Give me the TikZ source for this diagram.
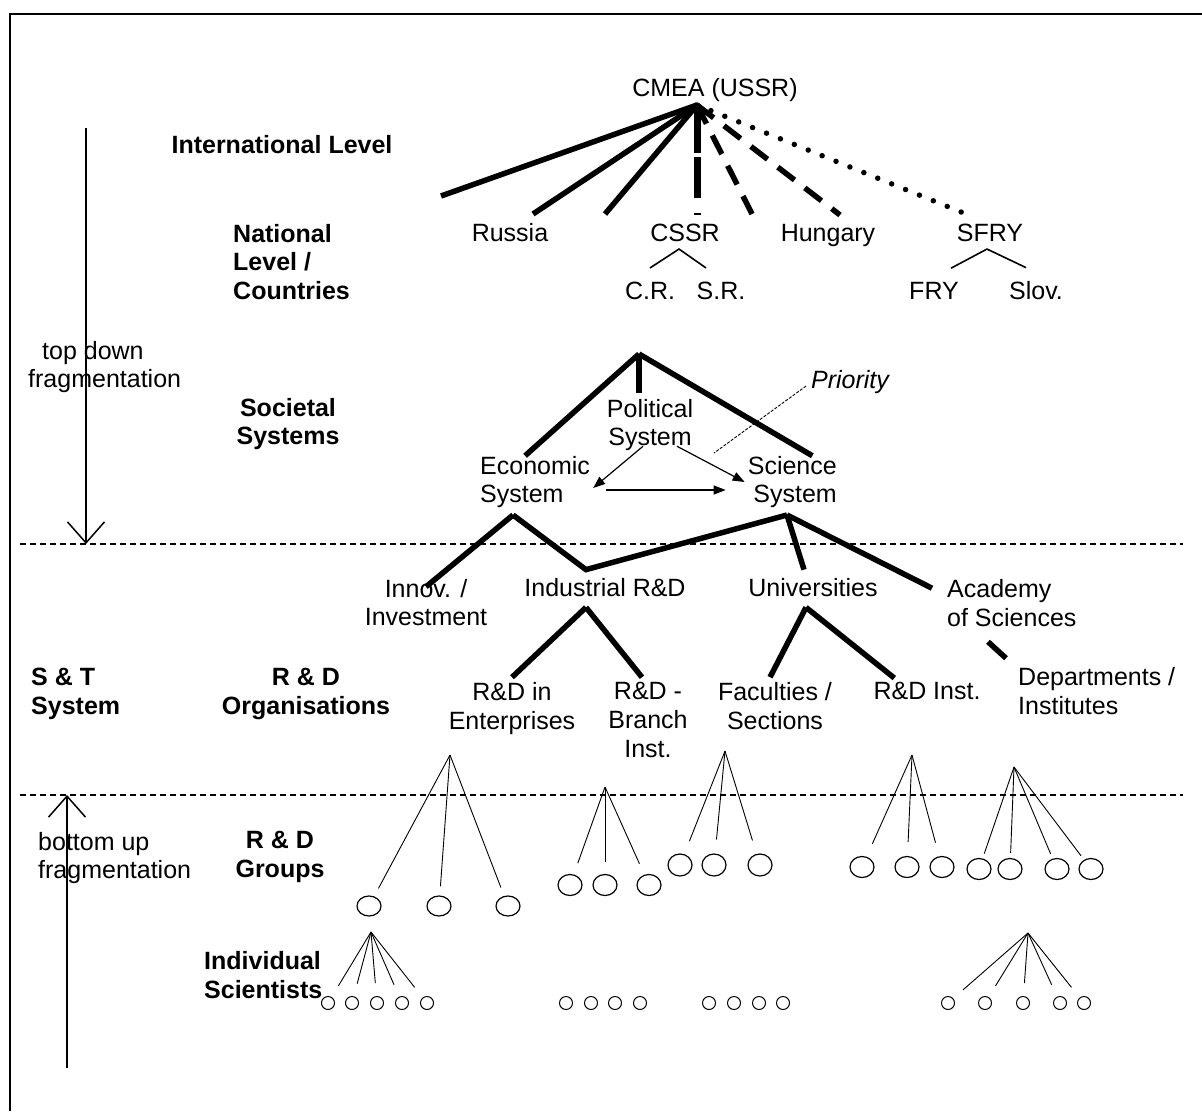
\documentclass[tikz,border=0pt]{standalone}
\usepackage{fontspec}
\setmainfont{Liberation Sans}
\usepackage{tikz}
\usetikzlibrary{shapes.geometric, arrows.meta}
\tikzstyle{lbl} = [inner sep=0pt, font=\fontsize{25}{28.8}\selectfont, align=center]
\tikzstyle{lvl} = [lbl, font=\fontsize{25}{28.8}\selectfont\bfseries]
\tikzstyle{grp} = [ellipse, draw, line width=1.2pt, minimum width=24pt, minimum height=21pt, inner sep=0pt]
\tikzstyle{sci} = [circle, draw, line width=1pt, minimum size=13pt, inner sep=0pt]
\tikzstyle{bough} = [line width=5.5pt]
\tikzstyle{split} = [line width=1.6pt]
\tikzstyle{twig} = [line width=0.9pt]
\tikzstyle{arrow} = [line width=1.2pt, -{Triangle[length=12pt,width=9pt]}]
\tikzstyle{flow} = [line width=1.5pt, -{Straight Barb[length=21pt,width=37pt]}]
\tikzstyle{border} = [line width=1.5pt, dash pattern=on 6pt off 4pt]
\tikzstyle{pointer} = [line width=0.9pt, dash pattern=on 3pt off 1.5pt]

\begin{document}
\begin{tikzpicture}[x=1pt, y=-1pt]
\useasboundingbox (0,0) rectangle (1202,1111);
% frame and level borders
\draw [line width=2.5pt] (10,1111) -- (10,14) -- (1202,14);
\draw [border] (20,544) -- (1183,544);
\draw [border] (20,795) -- (1183,795);

% level names
\node (intl) [lvl] at (282,145) {International Level};
\node (natl) [lvl, align=left, anchor=west] at (233,262) {National\\Level /\\Countries};
\node (socl) [lvl] at (288,424) {Societal\\Systems};
\node (stsys) [lvl, align=left, anchor=west] at (31,694) {S \& T\\System};
\node (rdorg) [lvl] at (306,694) {R \& D\\Organisations};
\node (rdgrp) [lvl] at (280,857) {R \& D\\Groups};
\node (indiv) [lvl, align=left, anchor=west] at (204,975) {Individual\\Scientists};

% fragmentation arrows
\node (topdown) [lbl, align=left, anchor=west] at (28,367) {\hspace*{14pt}top down\\fragmentation};
\node (bottomup) [lbl, align=left, anchor=west] at (38,858) {bottom up\\fragmentation};
\coordinate (tdstart) at (86,128);
\coordinate (tdend) at (86,544);
\coordinate (bustart) at (67,1068);
\coordinate (buend) at (67,795);
\draw [flow] (tdstart) -- (tdend);
\draw [flow] (bustart) -- (buend);

% international and national level
\node (cmea) [lbl] at (715,90.5) {CMEA (USSR)};
\node (russia) [lbl] at (510,233) {Russia};
\node (cssr) [lbl] at (685,233) {CSSR};
\node (hungary) [lbl] at (828,235.5) {Hungary};
\node (sfry) [lbl] at (990,233) {SFRY};
\node (cr) [lbl] at (650,291) {C.R.};
\node (sr) [lbl] at (721,291) {S.R.};
\node (fry) [lbl] at (934,291) {FRY};
\node (slov) [lbl] at (1036,291) {Slov.};
\coordinate (cmeafoot) at (697,105);
\coordinate (link1) at (441,196);
\coordinate (link2) at (533,214);
\coordinate (link3) at (605,214);
\coordinate (link4) at (697,215);
\coordinate (link5) at (752,214);
\coordinate (link6) at (840,215);
\coordinate (link7) at (966,214);
\draw [bough] (cmeafoot) -- (link1);
\draw [bough] (cmeafoot) -- (link2);
\draw [bough] (cmeafoot) -- (link3);
\draw [bough, line width=7pt, dash pattern=on 48pt off 4pt on 41pt off 15pt] (cmeafoot) -- (link4);
\draw [bough, dash pattern=on 21pt off 13pt] (cmeafoot) -- (link5);
\draw [bough, dash pattern=on 21pt off 13pt] (cmeafoot) -- (link6);
\draw [bough, line cap=round, dash pattern=on 0pt off 15pt] (cmeafoot) -- (link7);
\draw [split] ([yshift=14pt]cr.north) -- ([xshift=-6pt,yshift=-7pt]cssr.south) -- ([xshift=-15pt,yshift=14pt]sr.north);
\draw [split] ([xshift=17pt,yshift=14pt]fry.north) -- ([xshift=-3pt,yshift=-7pt]sfry.south) -- ([xshift=-10pt,yshift=14pt]slov.north);

% societal systems
\coordinate (socfoot) at (639,354);
\node (political) [lbl] at (650,425) {Political\\System};
\node (economic) [lbl, align=left, anchor=west] at (480,482) {Economic\\System};
\node (science) [lbl, align=right, anchor=east] at (837,482) {Science\\System};
\node (priority) [lbl, font=\fontsize{25}{28.8}\selectfont\itshape] at (850,382.5) {Priority};
\coordinate (prioend) at (714,453);
\draw [bough] (socfoot) -- ([xshift=-10pt]economic.north);
\draw [bough] (socfoot) -- ([xshift=-11pt,yshift=6pt]political.north);
\draw [bough] (socfoot) -- ([xshift=20pt]science.north);
\draw [pointer, shorten <=6pt] (priority.west) -- (prioend);
\draw [arrow] ([xshift=-7pt,yshift=5pt]political.south) -- ([xshift=3pt,yshift=-6pt]economic.east);
\draw [arrow] ([xshift=27pt,yshift=5pt]political.south) -- ([xshift=-3pt]science.west);
\draw [arrow] ([xshift=16pt,yshift=-8pt]economic.east) -- ([xshift=-22pt,yshift=-8pt]science.west);

% S & T system
\coordinate (econfoot) at (513,515);
\coordinate (scifoot) at (787,515);
\node (innov) [lbl] at (426,602.5) {Innov. /\\Investment};
\node (indrd) [lbl] at (605,588) {Industrial R\&D};
\node (univ) [lbl] at (813,588) {Universities};
\node (academy) [lbl, align=left, anchor=west] at (947,603) {Academy\\of Sciences};
\coordinate (bend) at ([xshift=-19pt,yshift=9pt]indrd.north);
\draw [bough] (econfoot) -- ([yshift=-8pt]innov.north);
\draw [bough] (econfoot) -- (bend) -- (scifoot);
\draw [bough] (scifoot) -- ([xshift=-9pt,yshift=9pt]univ.north);
\draw [bough] (scifoot) -- ([xshift=-15pt,yshift=-9pt]academy.north west);

% R & D organisations
\node (rdent) [lbl] at (512,708.5) {R\&D in\\Enterprises};
\node (rdbranch) [lbl] at (648,720) {R\&D -\\Branch\\Inst.};
\node (faculties) [lbl] at (775,706) {Faculties /\\Sections};
\node (rdinst) [lbl] at (927,691) {R\&D Inst.};
\node (depts) [lbl, align=left, anchor=west] at (1018,691) {Departments /\\Institutes};
\coordinate (indfoot) at ([xshift=-19pt,yshift=-10pt]indrd.south);
\coordinate (univfoot) at ([xshift=-7pt,yshift=-10pt]univ.south);
\draw [bough] (indfoot) -- ([yshift=5pt]rdent.north);
\draw [bough] (indfoot) -- ([xshift=-6pt,yshift=5pt]rdbranch.north);
\draw [bough] (univfoot) -- ([xshift=-5pt,yshift=5pt]faculties.north);
\draw [bough] (univfoot) -- ([xshift=21pt,yshift=4pt]rdinst.north west);
\draw [bough] ([xshift=41pt,yshift=-15pt]academy.south west) -- ([xshift=-12pt,yshift=9pt]depts.north west);

% R & D groups
\coordinate (entfoot) at (450,755);
\coordinate (brfoot) at (605,787);
\coordinate (facfoot) at (725,751);
\coordinate (instfoot) at (912,755);
\coordinate (deptfoot) at (1014,767);
\foreach \i/\x in {1/369,2/439,3/508} \node (ent\i) [grp, minimum height=20pt] at (\x,906) {};
\foreach \i/\x in {1/570,2/605,3/649} \node (br\i) [grp] at (\x,885) {};
\foreach \i/\x in {1/680,2/714,3/760} \node (fac\i) [grp, minimum height=22pt] at (\x,865) {};
\foreach \i/\x in {1/862,2/907,3/942} \node (inst\i) [grp] at (\x,867) {};
\foreach \i/\x in {1/979,2/1010,3/1057,4/1091} \node (dept\i) [grp] at (\x,869) {};
\foreach \i in {1,2,3} \draw [twig, shorten >=9pt] (entfoot) -- (ent\i);
\foreach \i in {1,2,3} \draw [twig, shorten >=12pt] (brfoot) -- (br\i);
\foreach \i in {1,2,3} \draw [twig, shorten >=14pt] (facfoot) -- (fac\i);
\foreach \i in {1,2,3} \draw [twig, shorten >=14pt] (instfoot) -- (inst\i);
\foreach \i in {1,2,3,4} \draw [twig, shorten >=5pt] (deptfoot) -- (dept\i);

% individual scientists
\coordinate (leftfoot) at (371,932);
\coordinate (rightfoot) at (1028,933);
\foreach \i/\x in {1/328,2/352,3/377,4/402,5/427} \node (sl\i) [sci] at (\x,1003) {};
\foreach \i/\x in {1/566,2/591,3/615,4/640} \node (sm\i) [sci] at (\x,1003) {};
\foreach \i/\x in {1/709,2/734,3/759,4/783} \node (sn\i) [sci] at (\x,1003) {};
\foreach \i/\x in {1/948,2/985,3/1023,4/1060,5/1084} \node (sr\i) [sci] at (\x,1003) {};
\foreach \i in {1,...,5} \draw [twig, shorten >=13pt] (leftfoot) -- (sl\i);
\foreach \i in {1,...,5} \draw [twig, shorten >=13pt] (rightfoot) -- (sr\i);
\end{tikzpicture}
\end{document}
